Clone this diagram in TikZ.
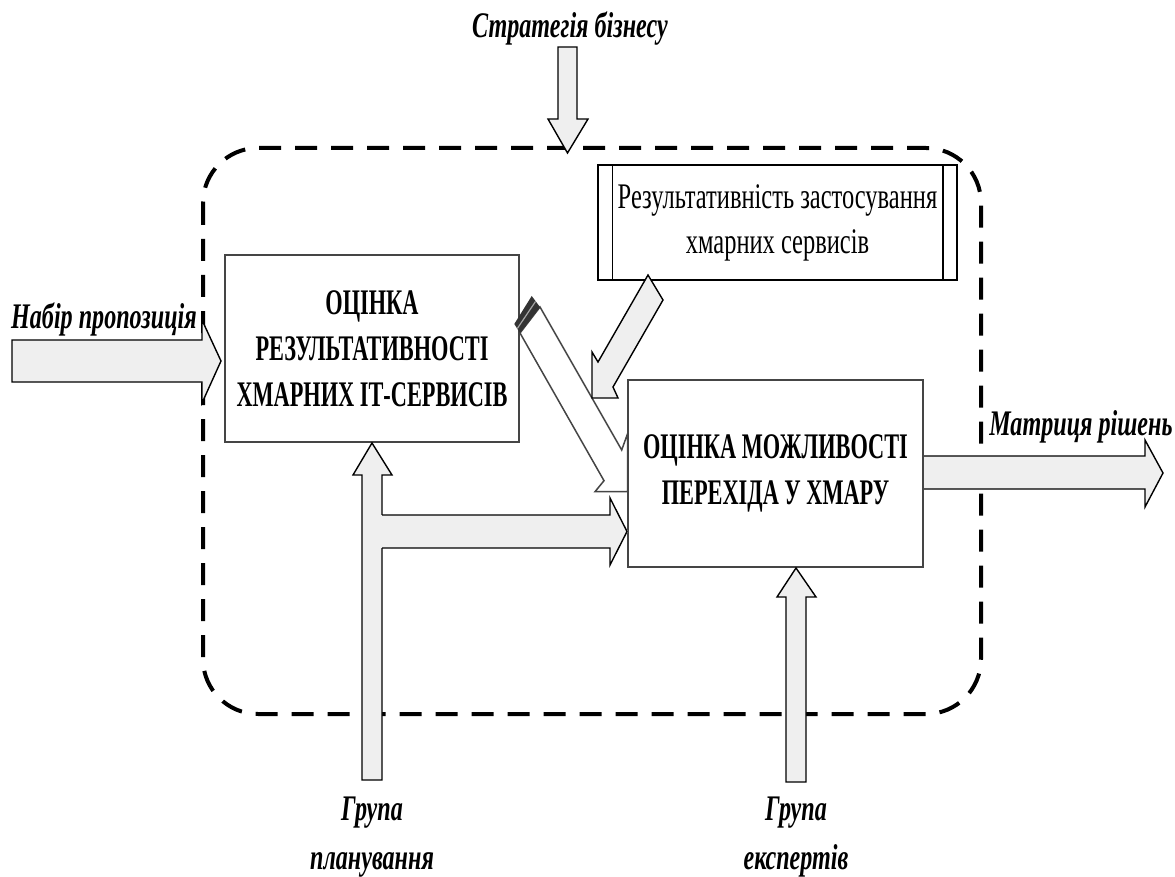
\documentclass[tikz,border=0pt]{standalone}
\usepackage{fontspec}
\setmainfont{Liberation Serif}
\newfontfamily\boxfam{Liberation Serif}[FakeStretch=0.62]
\newfontfamily\docfam{Liberation Serif}[FakeStretch=0.68]
\newfontfamily\lblfam{Liberation Serif}[FakeStretch=0.67]
\definecolor{agray}{HTML}{EFEFEF}
\definecolor{bline}{HTML}{454545}
\begin{document}
\begin{tikzpicture}[x=1pt,y=-1pt,
  blk/.style={draw=black,fill=agray,line width=1.4pt,line join=miter},
  box/.style={draw=bline,line width=2pt,fill=white,align=center,inner sep=0pt},
  boxfont/.style={font=\boxfam\fontsize{36}{46}\selectfont\bfseries},
  lbl/.style={font=\lblfam\fontsize{36}{44}\selectfont\bfseries\itshape,inner sep=0pt,anchor=base},
  frame/.style={line width=4pt,dash pattern=on 22pt off 14pt,rounded corners=55pt},
]
\useasboundingbox (0,0) rectangle (1175,877);

% dashed frame
\draw[frame] (203,148) rectangle (981,714);

% boxes
\node[box,boxfont,minimum width=294pt,minimum height=187pt] (A) at (372,348.5)
  {ОЦІНКА\\РЕЗУЛЬТАТИВНОСТІ\\ХМАРНИХ ІТ-СЕРВИСІВ};
\node[box,boxfont,minimum width=295pt,minimum height=187pt] (B) at (775.5,473.5)
  {ОЦІНКА МОЖЛИВОСТІ\\ПЕРЕХІДА У ХМАРУ};
\node[box,draw=black,line width=1.5pt,font=\docfam\fontsize{36}{45}\selectfont,
  minimum width=359pt,minimum height=115pt] (C) at (777.5,222.5)
  {Результативність застосування\\хмарних сервисів};
\draw[line width=1.5pt] ([xshift=15pt]C.north west) -- ([xshift=15pt]C.south west)
  ([xshift=-15pt]C.north east) -- ([xshift=-15pt]C.south east);

% labels
\node[lbl] (strat) at (570,38) {Стратегія бізнесу};
\node[lbl] (nabir) at (104,328) {Набір пропозиція};
\node[lbl] (matr) at (1081,435) {Матриця рішень};
\node[lbl] (gp1) at (372,820) {Група};
\node[lbl] (gp2) at (372,869) {планування};
\node[lbl] (ge1) at (796,820) {Група};
\node[lbl] (ge2) at (796,869) {експертів};

% strategy arrow
\draw[blk] (558,47) -- (577,47) -- (577,119) -- (588,119) -- (567.5,153)
  -- (548,119) -- (558,119) -- cycle;
% input arrow
\draw[blk] (12,340) -- (202,340) -- (202,320) -- (221,361) -- (202,403)
  -- (202,382) -- (12,382) -- cycle;
% output arrow
\draw[blk] (B.east |- 0,456) -- (1145,456) -- (1145,440) -- (1163,473) -- (1145,507)
  -- (1145,489) -- (B.east |- 0,489);
% planning group arrow (vertical)
\draw[blk] (362,780) -- (362,475) -- (353,475) -- (A.south) -- (392,475)
  -- (382,475) -- (382,780) -- cycle;
% planning branch to B
\fill[agray] (381,515) rectangle (611,548);
\fill[agray] (610,498) -- (628,531.5) -- (610,565) -- cycle;
\draw[blk,fill=none] (382,515) -- (610,515) -- (610,498) -- (B.west |- 0,531.5)
  -- (610,565) -- (610,548) -- (382,548);
% experts arrow
\draw[blk] (786,782) -- (786,597) -- (777,597) -- (B.south -| 796,0) -- (816,597)
  -- (806,597) -- (806,782) -- cycle;

% white arrow from A to B
\draw[draw=bline,fill=white,line width=1.5pt,line join=miter]
  (540,307) -- (621.7,450) -- (627.7,433.3) -- (627.7,491.7) -- (595,491.7)
  -- (604,480.7) -- (520,333) -- cycle;
\fill[black!80] (531.7,296) -- (540,307) -- (520,333) -- (514.3,324) -- cycle;
\draw[black!35,line width=1.2pt] (535.5,301.5) -- (517.3,328.5);

% grey arrow from C to B
\draw[blk] (648,275) -- (663,300) -- (613,387) -- (618,398) -- (592,398)
  -- (592,352) -- (598,362) -- cycle;
\end{tikzpicture}
\end{document}
